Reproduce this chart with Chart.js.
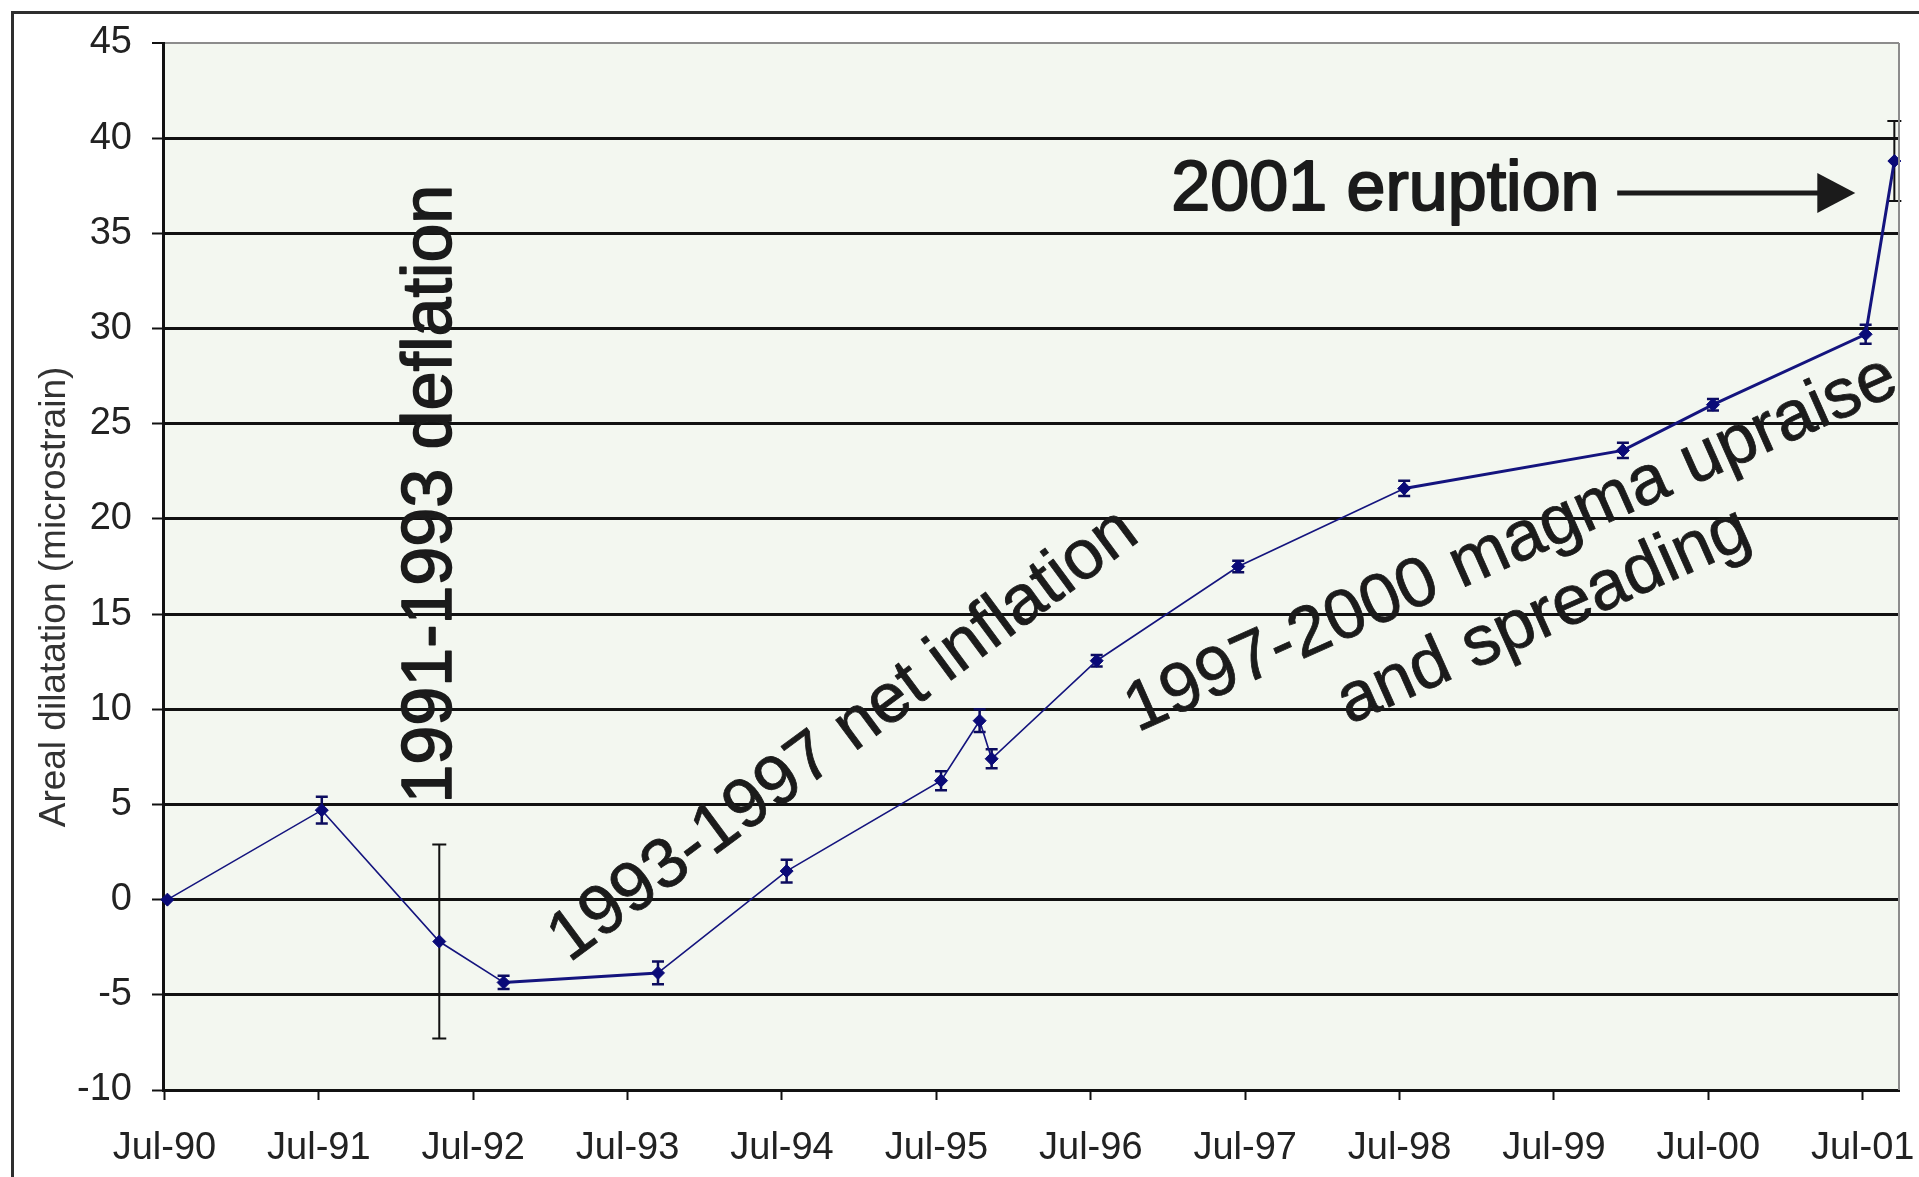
<!DOCTYPE html>
<html>
<head>
<meta charset="utf-8">
<title>Areal dilatation 1990-2001</title>
<script src="https://cdn.jsdelivr.net/npm/chart.js@4.4.1/dist/chart.umd.min.js"></script>
<style>
  html, body { margin: 0; padding: 0; background: #ffffff; }
  canvas { display: block; }
</style>
</head>
<body>
<canvas id="chart" width="1919" height="1177"></canvas>
<script>
// Survey epochs, areal dilatation (microstrain) and 1-sigma uncertainty
const surveyDates = ['1990-07-08', '1991-07-08', '1992-04-12', '1992-09-12', '1993-09-12',
                     '1994-07-12', '1995-07-12', '1995-10-12', '1995-11-10', '1996-07-15',
                     '1997-06-15', '1998-07-12', '1999-12-12', '2000-07-12', '2001-07-08',
                     '2001-09-15'];
const dilatation  = [0, 4.7, -2.2, -4.35, -3.85, 1.5, 6.25, 9.4, 7.4, 12.55,
                     17.5, 21.6, 23.6, 26.0, 29.7, 38.8];
const uncertainty = [0, 0.7, 5.1, 0.35, 0.6, 0.6, 0.5, 0.6, 0.5, 0.3,
                     0.3, 0.4, 0.4, 0.3, 0.5, 2.1];

// Time axis ticks (every July)
const tickDates  = ['1990-07-01', '1991-07-01', '1992-07-01', '1993-07-01', '1994-07-01', '1995-07-01',
                    '1996-07-01', '1997-07-01', '1998-07-01', '1999-07-01', '2000-07-01', '2001-07-01'];
const tickLabels = ['Jul-90', 'Jul-91', 'Jul-92', 'Jul-93', 'Jul-94', 'Jul-95',
                    'Jul-96', 'Jul-97', 'Jul-98', 'Jul-99', 'Jul-00', 'Jul-01'];
const axisStart = '1990-06-28';
const axisEnd   = '2001-09-26';

// date string -> decimal year
function toYear(s) {
  const [y, m, d] = s.split('-').map(Number);
  return y + (m - 1) / 12 + (d - 1) / 365;
}

const surveyYears = surveyDates.map(toYear);
const tickYears = tickDates.map(toYear);
const points = surveyYears.map((t, i) => ({ x: t, y: dilatation[i] }));

const FONT = '"Liberation Sans", Arial, Helvetica, sans-serif';
const NAVY = '#14147e';

// Text annotations placed in data coordinates
const notes = [
  { lines: ['1991-1993 deflation'], x: 1992.23, y: 21.3, angle: -90, size: 70, stroke: 1.6 },
  { lines: ['1993-1997 net inflation'], x: 1994.9, y: 8.6, angle: -36.5, size: 70, stroke: 0.8 },
  { lines: ['1997-2000 magma upraise', 'and spreading'], x: 1999.33, y: 16.75, angle: -24, size: 70, stroke: 0.8, lineGap: 79 },
];
const eruptionLabel = { text: '2001 eruption', x: 1997.022, y: 36.23, size: 70, stroke: 2 };
const eruptionArrow = { from: 1999.91, to: 2001.452, y: 37.12 };

const backdrop = {
  id: 'backdrop',
  beforeDraw(chart) {
    const { ctx, chartArea: a } = chart;
    ctx.save();
    ctx.fillStyle = '#ffffff';
    ctx.fillRect(0, 0, chart.width, chart.height);
    ctx.fillStyle = '#f3f7f0';
    ctx.fillRect(a.left, a.top, a.right - a.left, a.bottom - a.top);
    // outer frame (left and top edges visible)
    ctx.strokeStyle = '#2e2e2e';
    ctx.lineWidth = 3;
    ctx.strokeRect(12.5, 12.5, chart.width + 40, chart.height + 40);
    ctx.restore();
  },
  afterDraw(chart) {
    const { ctx, chartArea: a } = chart;
    ctx.save();
    // right edge of plot area
    ctx.strokeStyle = '#8c8c8c';
    ctx.lineWidth = 2;
    ctx.beginPath();
    ctx.moveTo(a.right, a.top);
    ctx.lineTo(a.right, a.bottom);
    ctx.stroke();
    // y-axis title
    ctx.translate(55, 597);
    ctx.rotate(-Math.PI / 2);
    ctx.fillStyle = '#333333';
    ctx.font = `37px ${FONT}`;
    ctx.textAlign = 'center';
    ctx.textBaseline = 'middle';
    ctx.fillText('Areal dilatation (microstrain)', 0, 0);
    ctx.restore();
  }
};

const errorBars = {
  id: 'errorBars',
  beforeDatasetsDraw(chart) {
    const { ctx, scales: { x, y } } = chart;
    ctx.save();
    surveyYears.forEach((t, i) => {
      const e = uncertainty[i];
      if (!e) return;
      const px = x.getPixelForValue(t);
      const top = y.getPixelForValue(dilatation[i] + e);
      const bot = y.getPixelForValue(dilatation[i] - e);
      const big = e > 1;
      ctx.strokeStyle = big ? '#111111' : '#0c0c5e';
      ctx.lineWidth = big ? 2 : 2.5;
      const cap = big ? 7 : 6;
      ctx.beginPath();
      ctx.moveTo(px, top); ctx.lineTo(px, bot);
      ctx.moveTo(px - cap, top); ctx.lineTo(px + cap, top);
      ctx.moveTo(px - cap, bot); ctx.lineTo(px + cap, bot);
      ctx.stroke();
    });
    ctx.restore();
  }
};

// fill text with a thin outline of the same colour for a heavier stroke
function heavyText(ctx, str, x, y, stroke) {
  ctx.fillText(str, x, y);
  if (stroke) {
    ctx.lineWidth = stroke;
    ctx.lineJoin = 'round';
    ctx.strokeText(str, x, y);
  }
}

const annotations = {
  id: 'annotations',
  afterDatasetsDraw(chart) {
    const { ctx, scales: { x, y } } = chart;
    ctx.save();
    ctx.fillStyle = '#1b1b1b';
    ctx.strokeStyle = '#1b1b1b';
    ctx.textAlign = 'center';
    ctx.textBaseline = 'middle';
    notes.forEach(n => {
      ctx.save();
      ctx.translate(x.getPixelForValue(n.x), y.getPixelForValue(n.y));
      ctx.rotate(n.angle * Math.PI / 180);
      ctx.font = `${n.size}px ${FONT}`;
      const gap = n.lineGap || 0;
      const off = -gap * (n.lines.length - 1) / 2;
      n.lines.forEach((line, k) => heavyText(ctx, line, 0, off + k * gap, n.stroke));
      ctx.restore();
    });
    // eruption label and arrow
    ctx.textAlign = 'left';
    ctx.textBaseline = 'alphabetic';
    ctx.font = `${eruptionLabel.size}px ${FONT}`;
    heavyText(ctx, eruptionLabel.text, x.getPixelForValue(eruptionLabel.x), y.getPixelForValue(eruptionLabel.y), eruptionLabel.stroke);
    const ay = y.getPixelForValue(eruptionArrow.y);
    const ax0 = x.getPixelForValue(eruptionArrow.from);
    const ax1 = x.getPixelForValue(eruptionArrow.to);
    const head = 38, half = 20;
    ctx.lineWidth = 5;
    ctx.beginPath();
    ctx.moveTo(ax0, ay);
    ctx.lineTo(ax1 - head + 2, ay);
    ctx.stroke();
    ctx.beginPath();
    ctx.moveTo(ax1, ay);
    ctx.lineTo(ax1 - head, ay - half);
    ctx.lineTo(ax1 - head, ay + half);
    ctx.closePath();
    ctx.fill();
    ctx.restore();
  }
};

new Chart(document.getElementById('chart'), {
  type: 'scatter',
  data: {
    datasets: [{
      data: points,
      showLine: true,
      borderColor: NAVY,
      borderWidth: 1.5,
      segment: {
        borderWidth: c => (c.p0DataIndex === 3 || c.p0DataIndex >= 11) ? 3 : 1.6
      },
      pointStyle: 'rectRot',
      pointRadius: 6.5,
      pointBackgroundColor: '#0a0a78',
      pointBorderColor: '#0a0a78',
      pointBorderWidth: 1,
      clip: false
    }]
  },
  options: {
    responsive: false,
    animation: false,
    devicePixelRatio: 1,
    layout: { padding: { left: 0, top: 43, right: 20, bottom: 0 } },
    plugins: { legend: { display: false }, tooltip: { enabled: false } },
    scales: {
      x: {
        type: 'linear',
        min: toYear(axisStart),
        max: toYear(axisEnd),
        afterFit(s) { s.height = 87; s.paddingLeft = 0; s.paddingRight = 0; },
        afterBuildTicks(s) { s.ticks = tickYears.map(v => ({ value: v })); },
        border: { display: true, color: '#111111', width: 3 },
        grid: { drawOnChartArea: false, drawTicks: true, tickLength: 10, tickColor: '#111111', tickWidth: 2 },
        ticks: {
          autoSkip: false,
          maxRotation: 0,
          padding: 26,
          color: '#222222',
          font: { family: FONT, size: 38 },
          callback: (v) => {
            const i = tickYears.findIndex(t => Math.abs(t - v) < 1e-6);
            return i >= 0 ? tickLabels[i] : '';
          }
        }
      },
      y: {
        min: -10,
        max: 45,
        afterFit(s) { s.width = 163; s.paddingTop = 0; s.paddingBottom = 0; },
        border: { display: true, color: '#111111', width: 3 },
        grid: {
          color: c => c.tick && c.tick.value === 45 ? '#8c8c8c' : '#111111',
          lineWidth: c => c.tick && c.tick.value === 45 ? 2 : 3,
          drawTicks: true,
          tickLength: 11,
          tickColor: '#111111',
          tickWidth: 2
        },
        ticks: {
          stepSize: 5,
          padding: 20,
          color: '#222222',
          font: { family: FONT, size: 38 }
        }
      }
    }
  },
  plugins: [backdrop, errorBars, annotations]
});
</script>
</body>
</html>
